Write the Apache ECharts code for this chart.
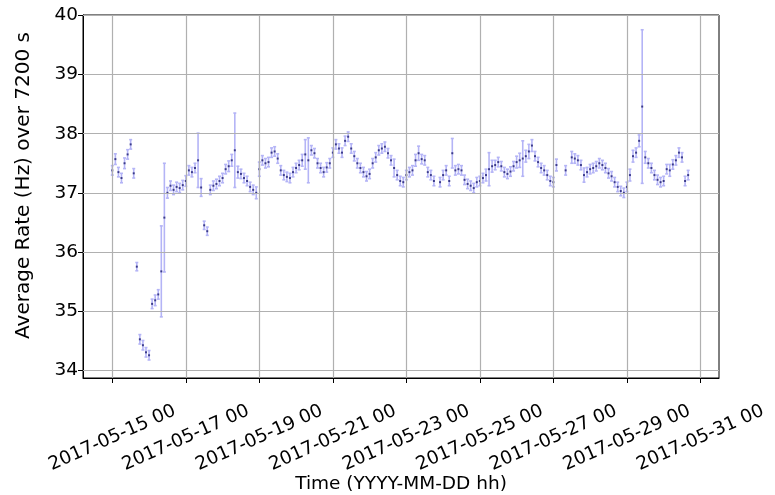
<!DOCTYPE html>
<html>
<head>
<meta charset="utf-8">
<script src="https://cdn.jsdelivr.net/npm/echarts@6/dist/echarts.min.js"></script>
<style>html,body{margin:0;padding:0;background:#fff}#c{width:775px;height:495px}</style>
</head>
<body>
<div id="c"></div>
<script>
// first bin time and bin width (7200 s)
const firstBin = '2017-05-15 00';
const binHours = 2;

// average rate per 2-hour bin (null = no data)
const rates = [
  37.38, 37.57, 37.35, 37.25, 37.50, 37.65, 37.82, 37.33, 35.75, 34.52,
  34.42, 34.30, 34.25, 35.12, 35.18, 35.28, 35.67, 36.58, 37.00, 37.12,
  37.05, 37.10, 37.08, 37.13, 37.20, 37.38, 37.35, 37.42, 37.55, 37.09,
  36.45, 36.35, 37.05, 37.12, 37.15, 37.20, 37.25, 37.40, 37.45, 37.55,
  37.72, 37.35, 37.32, 37.25, 37.20, 37.10, 37.05, 37.00, 37.40, 37.55,
  37.50, 37.52, 37.68, 37.70, 37.58, 37.38, 37.30, 37.27, 37.25, 37.35,
  37.42, 37.47, 37.55, 37.65, 37.55, 37.72, 37.67, 37.50, 37.42, 37.35,
  37.43, 37.50, 37.68, 37.82, 37.75, 37.68, 37.88, 37.95, 37.75, 37.62,
  37.50, 37.42, 37.35, 37.28, 37.32, 37.50, 37.60, 37.72, 37.75, 37.78,
  37.67, 37.55, 37.42, 37.30, 37.20, 37.18, 37.30, 37.35, 37.38, 37.55,
  37.67, 37.57, 37.55, 37.35, 37.30, 37.20, null,  37.18, 37.30, 37.38,
  37.20, 37.67, 37.38, 37.40, 37.38, 37.22, 37.15, 37.12, 37.08, 37.18,
  37.20, 37.25, 37.30, 37.40, 37.45, 37.47, 37.52, 37.45, 37.35, 37.32,
  37.36, 37.45, 37.52, 37.55, 37.58, 37.62, 37.70, 37.80, 37.62, 37.52,
  37.42, 37.38, 37.30, 37.20, 37.18, 37.47, null,  null,  37.38, null,
  37.60, 37.58, 37.55, 37.47, 37.30, 37.35, 37.40, 37.42, 37.45, 37.50,
  37.47, 37.42, 37.33, 37.28, 37.18, 37.10, 37.03, 37.00, 37.10, 37.30,
  37.62, 37.68, 37.88, 38.46, 37.60, 37.50, 37.42, 37.30, 37.22, 37.18,
  37.20, 37.40, 37.38, 37.48, 37.55, 37.68, 37.60, 37.20, 37.30
];

// half-length of each error bar (Hz)
const errors = [
  0.08, 0.09, 0.08, 0.08, 0.09, 0.08, 0.08, 0.08, 0.07, 0.08,
  0.08, 0.08, 0.08, 0.08, 0.09, 0.08, 0.77, 0.92, 0.09, 0.08,
  0.08, 0.08, 0.08, 0.08, 0.09, 0.08, 0.08, 0.08, 0.46, 0.15,
  0.07, 0.07, 0.08, 0.08, 0.08, 0.08, 0.08, 0.08, 0.09, 0.10,
  0.63, 0.10, 0.08, 0.08, 0.08, 0.08, 0.08, 0.10, 0.12, 0.08,
  0.08, 0.08, 0.08, 0.08, 0.08, 0.08, 0.08, 0.08, 0.08, 0.08,
  0.08, 0.08, 0.10, 0.25, 0.38, 0.08, 0.08, 0.08, 0.08, 0.08,
  0.08, 0.08, 0.08, 0.08, 0.08, 0.08, 0.08, 0.08, 0.08, 0.08,
  0.08, 0.08, 0.08, 0.08, 0.08, 0.08, 0.08, 0.08, 0.08, 0.08,
  0.08, 0.08, 0.15, 0.08, 0.08, 0.08, 0.08, 0.08, 0.08, 0.10,
  0.12, 0.08, 0.08, 0.08, 0.08, 0.08, 0.08,  0.08, 0.08, 0.08,
  0.08, 0.25, 0.08, 0.08, 0.08, 0.08, 0.08, 0.08, 0.08, 0.08,
  0.08, 0.08, 0.10, 0.28, 0.10, 0.08, 0.08, 0.08, 0.08, 0.08,
  0.08, 0.08, 0.10, 0.12, 0.30, 0.10, 0.12, 0.10, 0.08, 0.08,
  0.08, 0.08, 0.08, 0.08, 0.08, 0.10, 0.08, 0.08, 0.08, 0.08,
  0.10, 0.08, 0.08, 0.08, 0.12, 0.08, 0.08, 0.08, 0.08, 0.08,
  0.08, 0.08, 0.08, 0.08, 0.08, 0.08, 0.08, 0.08, 0.08, 0.10,
  0.10, 0.08, 0.10, 1.30, 0.10, 0.08, 0.08, 0.08, 0.08, 0.08,
  0.08, 0.08, 0.10, 0.08, 0.08, 0.08, 0.08, 0.08, 0.08
];

const xTickLabels = ['2017-05-15 00','2017-05-17 00','2017-05-19 00','2017-05-21 00',
  '2017-05-23 00','2017-05-25 00','2017-05-27 00','2017-05-29 00','2017-05-31 00'];
const yTicks = [34, 35, 36, 37, 38, 39, 40];

function parseT(s){
  const p = s.split(/[- ]/).map(Number);
  return Date.UTC(p[0], p[1]-1, p[2], p[3]);
}
function fmt(t){
  const d = new Date(t), z = n => String(n).padStart(2,'0');
  return d.getUTCFullYear()+'-'+z(d.getUTCMonth()+1)+'-'+z(d.getUTCDate())+' '+z(d.getUTCHours());
}
const H = 3600000, DAY = 24*H;
const t0 = parseT(firstBin);
const xTicks = xTickLabels.map(parseT);

const pts = [], bars = [];
rates.forEach((v, i) => {
  if (v == null) return;
  const t = t0 + i*binHours*H;
  pts.push([t, v]);
  bars.push([t, v - errors[i], v + errors[i]]);
});

const FONT = 'DejaVu Sans';
const FS = 18.5;
const chart = echarts.init(document.getElementById('c'), null, {renderer:'canvas'});
chart.setOption({
  animation: false,
  backgroundColor: '#fff',
  grid: {left: 83, right: 56, top: 15, bottom: 117, show: true, borderColor: '#000', borderWidth: 1,
         backgroundColor: 'transparent', containLabel: false, outerBoundsMode: 'none'},
  xAxis: {
    type: 'value',
    min: xTicks[0] - 0.797*DAY,
    max: xTicks[xTicks.length-1] + 0.506*DAY,
    splitLine: {show: false},
    axisLine: {show: true, lineStyle: {color: '#000', width: 1}},
    axisTick: {show: true, customValues: xTicks, length: 5, lineStyle: {color: '#000'}},
    axisLabel: {
      customValues: xTicks, formatter: v => fmt(v), rotate: 24,
      align: 'center', verticalAlign: 'middle', margin: 60,
      color: '#000', fontFamily: FONT, fontSize: FS
    },
    name: 'Time (YYYY-MM-DD hh)', nameLocation: 'middle', nameGap: 97, nameMoveOverlap: false,
    nameTextStyle: {color: '#000', fontFamily: FONT, fontSize: FS}
  },
  yAxis: {
    type: 'value', min: 33.865, max: 40.01,
    splitLine: {show: false},
    axisLine: {show: true, lineStyle: {color: '#000', width: 1}},
    axisTick: {show: true, customValues: yTicks, length: 5, lineStyle: {color: '#000'}},
    axisLabel: {customValues: yTicks, color: '#000', fontFamily: FONT, fontSize: FS, margin: 5},
    name: 'Average Rate (Hz) over 7200 s', nameLocation: 'middle', nameGap: 49, nameMoveOverlap: false,
    nameTextStyle: {color: '#000', fontFamily: FONT, fontSize: 20, padding: [0, 0, 0, 22]}
  },
  series: [
    {
      type: 'scatter', data: [], z: 1, silent: true,
      markLine: {
        silent: true, symbol: ['none','none'], label: {show: false},
        lineStyle: {color: '#b0b0b0', width: 1.2, type: 'solid'},
        animation: false,
        data: yTicks.map(v => ({yAxis: v})).concat(xTicks.map(t => ({xAxis: t})))
      }
    },
    {
      type: 'custom', z: 2, silent: true,
      data: bars,
      renderItem: function(params, api){
        const t = api.value(0);
        const a = api.coord([t, api.value(1)]);
        const b = api.coord([t, api.value(2)]);
        const st = {stroke: '#b4b4f6', lineWidth: 1.6};
        return {type: 'group', children: [
          {type: 'line', shape: {x1: a[0], y1: a[1], x2: b[0], y2: b[1]}, style: st},
          {type: 'line', shape: {x1: a[0]-1.5, y1: a[1], x2: a[0]+1.5, y2: a[1]}, style: st},
          {type: 'line', shape: {x1: b[0]-1.5, y1: b[1], x2: b[0]+1.5, y2: b[1]}, style: st}
        ]};
      }
    },
    {
      type: 'scatter', z: 3, silent: true, data: pts,
      symbol: 'rect', symbolSize: 2, itemStyle: {color: '#1c1c70'}
    }
  ]
});
</script>
</body>
</html>
